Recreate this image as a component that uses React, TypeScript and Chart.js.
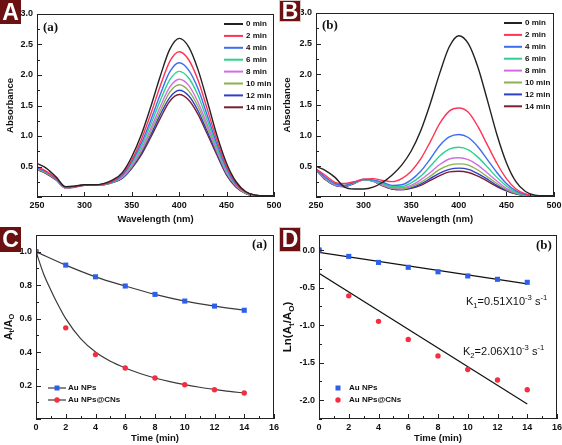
import React, { useEffect, useRef } from 'react';
import Chart from 'chart.js/auto';

const SANS = "'Liberation Sans', Arial, Helvetica, sans-serif";
const SERIF = "'Liberation Serif', 'Times New Roman', serif";

// ---------- data ----------
const wavelengths = [250, 260, 270, 280, 290, 300, 310, 320, 330, 340, 350, 360, 370, 380, 390, 400, 410, 420, 430, 440, 450, 460, 470, 480, 490, 500];
const timeLabels = ['0 min', '2 min', '4 min', '6 min', '8 min', '10 min', '12 min', '14 min'];
const spectraColors = ['#222222', '#ff3355', '#3d6ef0', '#30d090', '#d070e0', '#8fb050', '#2c40c8', '#7a2030'];

// Panel A: Au NPs
const a0 = [0.55, 0.47, 0.33, 0.17, 0.18, 0.20, 0.20, 0.22, 0.28, 0.40, 0.66, 1.02, 1.48, 1.98, 2.42, 2.60, 2.46, 2.08, 1.55, 1.00, 0.55, 0.25, 0.09, 0.03, 0.02, 0.02];
const a2 = [0.50, 0.42, 0.31, 0.16, 0.17, 0.19, 0.19, 0.21, 0.26, 0.38, 0.61, 0.94, 1.36, 1.82, 2.22, 2.38, 2.25, 1.91, 1.42, 0.92, 0.50, 0.23, 0.08, 0.03, 0.02, 0.02];
const a4 = [0.48, 0.41, 0.30, 0.16, 0.17, 0.19, 0.19, 0.21, 0.25, 0.36, 0.58, 0.88, 1.26, 1.68, 2.05, 2.20, 2.08, 1.77, 1.32, 0.86, 0.47, 0.21, 0.08, 0.03, 0.02, 0.02];
const a6 = [0.47, 0.40, 0.30, 0.16, 0.17, 0.20, 0.19, 0.21, 0.25, 0.35, 0.55, 0.83, 1.19, 1.58, 1.92, 2.06, 1.95, 1.66, 1.24, 0.81, 0.44, 0.20, 0.07, 0.03, 0.02, 0.02];
const a8 = [0.47, 0.40, 0.29, 0.15, 0.17, 0.20, 0.19, 0.21, 0.25, 0.33, 0.52, 0.78, 1.12, 1.48, 1.80, 1.93, 1.83, 1.55, 1.17, 0.77, 0.41, 0.19, 0.07, 0.03, 0.02, 0.02];
const a10 = [0.46, 0.39, 0.29, 0.15, 0.17, 0.20, 0.19, 0.20, 0.24, 0.32, 0.50, 0.75, 1.07, 1.41, 1.72, 1.84, 1.74, 1.48, 1.12, 0.74, 0.39, 0.18, 0.06, 0.02, 0.02, 0.02];
const a12 = [0.46, 0.39, 0.29, 0.15, 0.17, 0.20, 0.19, 0.20, 0.24, 0.31, 0.48, 0.72, 1.02, 1.35, 1.63, 1.75, 1.66, 1.41, 1.06, 0.71, 0.37, 0.17, 0.06, 0.02, 0.02, 0.02];
const a14 = [0.45, 0.38, 0.28, 0.15, 0.16, 0.19, 0.19, 0.20, 0.24, 0.31, 0.47, 0.69, 0.98, 1.29, 1.57, 1.68, 1.59, 1.35, 1.02, 0.68, 0.36, 0.16, 0.06, 0.02, 0.02, 0.02];

// Panel B: Au NPs@CNs
const b0 = [0.50, 0.43, 0.32, 0.16, 0.13, 0.13, 0.16, 0.24, 0.36, 0.52, 0.75, 1.08, 1.52, 2.02, 2.45, 2.63, 2.50, 2.12, 1.58, 1.02, 0.56, 0.25, 0.09, 0.03, 0.02, 0.02];
const b2 = [0.46, 0.35, 0.24, 0.22, 0.25, 0.29, 0.30, 0.27, 0.25, 0.30, 0.42, 0.62, 0.90, 1.20, 1.40, 1.45, 1.38, 1.15, 0.85, 0.55, 0.30, 0.13, 0.05, 0.02, 0.01, 0.01];
const b4 = [0.45, 0.32, 0.22, 0.19, 0.24, 0.29, 0.28, 0.24, 0.19, 0.20, 0.28, 0.42, 0.62, 0.84, 0.98, 1.02, 0.97, 0.82, 0.61, 0.40, 0.22, 0.10, 0.04, 0.02, 0.01, 0.01];
const b6 = [0.45, 0.31, 0.21, 0.19, 0.23, 0.28, 0.27, 0.22, 0.17, 0.17, 0.23, 0.34, 0.50, 0.67, 0.78, 0.81, 0.77, 0.65, 0.49, 0.32, 0.18, 0.08, 0.03, 0.01, 0.01, 0.01];
const b8 = [0.44, 0.30, 0.20, 0.18, 0.23, 0.28, 0.26, 0.20, 0.15, 0.15, 0.19, 0.28, 0.40, 0.53, 0.62, 0.64, 0.61, 0.52, 0.39, 0.26, 0.14, 0.07, 0.03, 0.01, 0.01, 0.01];
const b10 = [0.44, 0.29, 0.20, 0.18, 0.23, 0.28, 0.26, 0.19, 0.14, 0.13, 0.17, 0.24, 0.34, 0.45, 0.52, 0.54, 0.52, 0.44, 0.33, 0.22, 0.12, 0.06, 0.02, 0.01, 0.01, 0.01];
const b12 = [0.44, 0.29, 0.19, 0.17, 0.23, 0.28, 0.26, 0.19, 0.13, 0.12, 0.15, 0.21, 0.30, 0.39, 0.45, 0.47, 0.45, 0.38, 0.29, 0.19, 0.11, 0.05, 0.02, 0.01, 0.01, 0.01];
const b14 = [0.44, 0.28, 0.19, 0.17, 0.22, 0.28, 0.26, 0.18, 0.13, 0.12, 0.14, 0.19, 0.27, 0.35, 0.41, 0.42, 0.40, 0.34, 0.26, 0.17, 0.10, 0.05, 0.02, 0.01, 0.01, 0.01];

// Panel C: At/A0 vs time
const times = [0, 2, 4, 6, 8, 10, 12, 14];
const cAu = [1.0, 0.92, 0.85, 0.795, 0.745, 0.705, 0.675, 0.65];
const cAuCN = [1.0, 0.545, 0.385, 0.305, 0.245, 0.205, 0.175, 0.155];
const cFitTimes = [0, 0.5, 1, 1.5, 2, 3, 4, 5, 6, 7, 8, 9, 10, 11, 12, 13, 14];
const cAuCNFit = [1.0, 0.87, 0.77, 0.68, 0.60, 0.48, 0.40, 0.345, 0.305, 0.272, 0.245, 0.223, 0.205, 0.19, 0.177, 0.165, 0.155];

// Panel D: ln(At/A0) vs time
const dAu = [0.0, -0.085, -0.165, -0.23, -0.29, -0.345, -0.39, -0.43];
const dAuCN = [0.0, -0.61, -0.95, -1.19, -1.41, -1.59, -1.73, -1.86];
const dFitTimes = [0, 14];
const dAuFit = [-0.03, -0.45];
const dAuCNFit = [-0.31, -2.05];

const seriesLabels = ['Au NPs', 'Au NPs@CNs'];
const BLUE = 'rgb(45,95,235)';
const RED = 'rgb(245,45,65)';

// ---------- helpers ----------
type Seg = { t: string; k?: 'sub' | 'sup' };
type TextItem = { segs: Seg[]; x: number; y: number; size: number; weight: string; family: string; align: 'left' | 'center' };
type LegendItem = { label: string; color: string; line?: string; marker?: 'rect' | 'circle' };
type DecorCfg = {
  xMinor: number; xMajor: number; yMinor: number; yMajor: number;
  xTitle: Seg[]; xTitleY: number; xTitleSize: number;
  yTitle: Seg[]; yTitleX: number; yTitleSize: number;
  legend: { items: LegendItem[]; x1: number; x2: number; textX: number; y0: number; dy: number; lw: number };
  texts: TextItem[];
};

function fontStr(weight: string, size: number, family: string) {
  return `${weight} ${size}px ${family}`;
}

function drawRich(ctx: CanvasRenderingContext2D, segs: Seg[], x: number, y: number, size: number, weight: string, family: string, align: 'left' | 'center') {
  const small = size * 0.7;
  let total = 0;
  const widths = segs.map((s) => {
    ctx.font = fontStr(weight, s.k ? small : size, family);
    const w = ctx.measureText(s.t).width;
    total += w;
    return w;
  });
  let cx = align === 'center' ? x - total / 2 : x;
  ctx.textAlign = 'left';
  ctx.textBaseline = 'middle';
  segs.forEach((s, i) => {
    ctx.font = fontStr(weight, s.k ? small : size, family);
    const dy = s.k === 'sub' ? size * 0.32 : s.k === 'sup' ? -size * 0.38 : 0;
    ctx.fillText(s.t, cx, y + dy);
    cx += widths[i];
  });
}

function decor(cfg: DecorCfg) {
  return {
    id: 'decor',
    afterDraw(chart: any) {
      const ctx: CanvasRenderingContext2D = chart.ctx;
      const a = chart.chartArea;
      const xs = chart.scales.x;
      const ys = chart.scales.y;
      ctx.save();
      ctx.strokeStyle = '#222';
      ctx.fillStyle = '#111';
      ctx.lineWidth = 1;
      const ticks = (scale: any, minor: number, major: number, horiz: boolean) => {
        const start = Math.ceil(scale.min / minor - 1e-9);
        const end = Math.floor(scale.max / minor + 1e-9);
        for (let i = start; i <= end; i++) {
          const v = i * minor;
          const r = v / major;
          const isMaj = Math.abs(r - Math.round(r)) < 1e-6;
          const len = isMaj ? 5 : 3;
          const p = Math.round(scale.getPixelForValue(v)) + 0.5;
          ctx.beginPath();
          if (horiz) {
            ctx.moveTo(p, a.bottom);
            ctx.lineTo(p, a.bottom - len);
          } else {
            ctx.moveTo(a.left, p);
            ctx.lineTo(a.left + len, p);
          }
          ctx.stroke();
        }
      };
      ticks(xs, cfg.xMinor, cfg.xMajor, true);
      ticks(ys, cfg.yMinor, cfg.yMajor, false);
      ctx.strokeRect(a.left + 0.5, a.top + 0.5, a.right - a.left - 1, a.bottom - a.top - 1);

      // titles
      drawRich(ctx, cfg.xTitle, (a.left + a.right) / 2, cfg.xTitleY, cfg.xTitleSize, 'bold', SANS, 'center');
      ctx.save();
      ctx.translate(cfg.yTitleX, (a.top + a.bottom) / 2);
      ctx.rotate(-Math.PI / 2);
      drawRich(ctx, cfg.yTitle, 0, 0, cfg.yTitleSize, 'bold', SANS, 'center');
      ctx.restore();

      // legend
      const L = cfg.legend;
      L.items.forEach((it, i) => {
        const y = L.y0 + i * L.dy;
        if (it.line) {
          ctx.strokeStyle = it.line;
          ctx.lineWidth = L.lw;
          ctx.beginPath();
          ctx.moveTo(L.x1, y);
          ctx.lineTo(L.x2, y);
          ctx.stroke();
        }
        if (it.marker) {
          const mx = (L.x1 + L.x2) / 2;
          ctx.fillStyle = it.color;
          if (it.marker === 'rect') {
            ctx.fillRect(mx - 2.5, y - 2.5, 5, 5);
          } else {
            ctx.beginPath();
            ctx.arc(mx, y, 2.7, 0, Math.PI * 2);
            ctx.fill();
          }
        }
        ctx.fillStyle = '#111';
        ctx.font = fontStr('bold', 8, SANS);
        ctx.textAlign = 'left';
        ctx.textBaseline = 'middle';
        ctx.fillText(it.label, L.textX, y);
      });

      // free texts
      ctx.fillStyle = '#111';
      cfg.texts.forEach((t) => drawRich(ctx, t.segs, t.x, t.y, t.size, t.weight, t.family, t.align));
      ctx.restore();
    },
  };
}

type AxOpts = {
  xmin: number; xmax: number; xstep: number; ymin: number; ymax: number; ystep: number;
  yw: number; xh: number; hideYZero: boolean;
};

function scales(o: AxOpts) {
  const tickFont = { family: SANS, size: 9, weight: 'bold' as const };
  return {
    x: {
      type: 'linear' as const,
      min: o.xmin,
      max: o.xmax,
      grid: { display: false, drawTicks: false },
      border: { display: false },
      ticks: {
        stepSize: o.xstep,
        padding: 3,
        color: '#111',
        font: tickFont,
        maxRotation: 0,
        autoSkip: false,
        includeBounds: false,
        callback: (v: any) => String(v),
      },
      afterFit: (s: any) => {
        s.height = o.xh;
        s.paddingLeft = 0;
        s.paddingRight = 0;
      },
    },
    y: {
      type: 'linear' as const,
      min: o.ymin,
      max: o.ymax,
      grid: { display: false, drawTicks: false },
      border: { display: false },
      ticks: {
        stepSize: o.ystep,
        padding: 4,
        color: '#111',
        font: tickFont,
        autoSkip: false,
        includeBounds: false,
        callback: (v: any) => (o.hideYZero && Math.abs(Number(v)) < 1e-9 ? '' : Number(v).toFixed(1)),
      },
      afterFit: (s: any) => {
        s.width = o.yw;
        s.paddingTop = 0;
        s.paddingBottom = 0;
      },
    },
  };
}

function spectraDatasets(series: number[][]) {
  return series.map((vals, i) => ({
    label: timeLabels[i],
    data: wavelengths.map((w, j) => ({ x: w, y: vals[j] })),
    borderColor: spectraColors[i],
    backgroundColor: spectraColors[i],
    borderWidth: 1.4,
    pointRadius: 0,
    cubicInterpolationMode: 'monotone' as const,
    fill: false,
  }));
}

const basePlugins = { legend: { display: false }, tooltip: { enabled: false } };

function spectraConfig(series: number[][], tag: string, pad: { top: number; right: number }, yw: number, yTitleX: number, leg: { x1: number; x2: number; textX: number; y0: number }, tagX: number, tagY: number): any {
  return {
    type: 'line',
    data: { datasets: spectraDatasets(series) },
    options: {
      animation: false,
      responsive: false,
      devicePixelRatio: 1,
      layout: { padding: { top: pad.top, right: pad.right, left: 0, bottom: 0 } },
      plugins: basePlugins,
      scales: scales({ xmin: 250, xmax: 500, xstep: 50, ymin: 0, ymax: 3.0, ystep: 0.5, yw, xh: 33, hideYZero: true }),
    },
    plugins: [
      decor({
        xMinor: 25, xMajor: 50, yMinor: 0.25, yMajor: 0.5,
        xTitle: [{ t: 'Wavelength (nm)' }], xTitleY: 219, xTitleSize: 9.5,
        yTitle: [{ t: 'Absorbance' }], yTitleX: yTitleX, yTitleSize: 9.5,
        legend: {
          items: timeLabels.map((l, i) => ({ label: l, color: spectraColors[i], line: spectraColors[i] })),
          x1: leg.x1, x2: leg.x2, textX: leg.textX, y0: leg.y0, dy: 11.9, lw: 2,
        },
        texts: [{ segs: [{ t: tag }], x: tagX, y: tagY, size: 13, weight: 'bold', family: SERIF, align: 'left' }],
      }),
    ],
  };
}

const configA = () => spectraConfig([a0, a2, a4, a6, a8, a10, a12, a14], '(a)', { top: 14, right: 7 }, 37, 10, { x1: 224, x2: 243, textX: 246, y0: 24 }, 43, 28);
const configB = () => spectraConfig([b0, b2, b4, b6, b8, b10, b12, b14], '(b)', { top: 13, right: 8 }, 35, 6, { x1: 223, x2: 241, textX: 244, y0: 23 }, 41, 26);

const configC = (): any => ({
  type: 'line',
  data: {
    datasets: [
      {
        label: seriesLabels[1],
        data: times.map((t, i) => ({ x: t, y: cAuCN[i] })),
        showLine: false,
        pointStyle: 'circle',
        pointRadius: 2.7,
        pointBackgroundColor: RED,
        pointBorderColor: RED,
        pointBorderWidth: 0,
      },
      {
        label: seriesLabels[0],
        data: times.map((t, i) => ({ x: t, y: cAu[i] })),
        borderColor: '#3a3a3a',
        borderWidth: 1.2,
        pointStyle: 'rect',
        pointRadius: 3.6,
        pointBackgroundColor: BLUE,
        pointBorderColor: BLUE,
        pointBorderWidth: 0,
        cubicInterpolationMode: 'monotone',
      },
      {
        label: 'fit',
        data: cFitTimes.map((t, i) => ({ x: t, y: cAuCNFit[i] })),
        borderColor: '#3a3a3a',
        borderWidth: 1.2,
        pointRadius: 0,
        cubicInterpolationMode: 'monotone',
      },
    ],
  },
  options: {
    animation: false,
    responsive: false,
    devicePixelRatio: 1,
    layout: { padding: { top: 13, right: 7, left: 0, bottom: 0 } },
    plugins: basePlugins,
    scales: scales({ xmin: 0, xmax: 16, xstep: 2, ymin: 0, ymax: 1.1, ystep: 0.2, yw: 36, xh: 26, hideYZero: true }),
  },
  plugins: [
    decor({
      xMinor: 1, xMajor: 2, yMinor: 0.1, yMajor: 0.2,
      xTitle: [{ t: 'Time (min)' }], xTitleY: 216.5, xTitleSize: 9.5,
      yTitle: [{ t: 'A' }, { t: 't', k: 'sub' }, { t: '/A' }, { t: 'O', k: 'sub' }], yTitleX: 9, yTitleSize: 10.5,
      legend: {
        items: [
          { label: seriesLabels[0], color: BLUE, line: '#3a3a3a', marker: 'rect' },
          { label: seriesLabels[1], color: RED, line: '#3a3a3a', marker: 'circle' },
        ],
        x1: 48, x2: 66, textX: 68, y0: 166, dy: 12, lw: 1.2,
      },
      texts: [{ segs: [{ t: '(a)' }], x: 252, y: 23, size: 13, weight: 'bold', family: SERIF, align: 'left' }],
    }),
  ],
});

const configD = (): any => ({
  type: 'line',
  data: {
    datasets: [
      {
        label: seriesLabels[0],
        data: times.map((t, i) => ({ x: t, y: dAu[i] })),
        showLine: false,
        pointStyle: 'rect',
        pointRadius: 3.6,
        pointBackgroundColor: BLUE,
        pointBorderColor: BLUE,
        pointBorderWidth: 0,
      },
      {
        label: seriesLabels[1],
        data: times.map((t, i) => ({ x: t, y: dAuCN[i] })),
        showLine: false,
        pointStyle: 'circle',
        pointRadius: 2.7,
        pointBackgroundColor: RED,
        pointBorderColor: RED,
        pointBorderWidth: 0,
      },
      {
        label: 'fit1',
        data: dFitTimes.map((t, i) => ({ x: t, y: dAuFit[i] })),
        borderColor: '#111',
        borderWidth: 1.2,
        pointRadius: 0,
      },
      {
        label: 'fit2',
        data: dFitTimes.map((t, i) => ({ x: t, y: dAuCNFit[i] })),
        borderColor: '#111',
        borderWidth: 1.2,
        pointRadius: 0,
      },
    ],
  },
  options: {
    animation: false,
    responsive: false,
    devicePixelRatio: 1,
    layout: { padding: { top: 13, right: 5, left: 0, bottom: 0 } },
    plugins: basePlugins,
    scales: scales({ xmin: 0, xmax: 16, xstep: 2, ymin: -2.25, ymax: 0.2, ystep: 0.5, yw: 38, xh: 26, hideYZero: false }),
  },
  plugins: [
    decor({
      xMinor: 1, xMajor: 2, yMinor: 0.25, yMajor: 0.5,
      xTitle: [{ t: 'Time (min)' }], xTitleY: 216.5, xTitleSize: 9.5,
      yTitle: [{ t: 'Ln(A' }, { t: 't', k: 'sub' }, { t: '/A' }, { t: 'O', k: 'sub' }, { t: ')' }], yTitleX: 7, yTitleSize: 11.5,
      legend: {
        items: [
          { label: seriesLabels[0], color: BLUE, marker: 'rect' },
          { label: seriesLabels[1], color: RED, marker: 'circle' },
        ],
        x1: 52, x2: 62, textX: 68, y0: 166, dy: 12, lw: 1,
      },
      texts: [
        { segs: [{ t: '(b)' }], x: 255, y: 24, size: 13, weight: 'bold', family: SERIF, align: 'left' },
        { segs: [{ t: 'K' }, { t: '1', k: 'sub' }, { t: '=0.51X10' }, { t: '-3', k: 'sup' }, { t: ' s' }, { t: '-1', k: 'sup' }], x: 185, y: 80, size: 11, weight: 'normal', family: SANS, align: 'left' },
        { segs: [{ t: 'K' }, { t: '2', k: 'sub' }, { t: '=2.06X10' }, { t: '-3', k: 'sup' }, { t: ' s' }, { t: '-1', k: 'sup' }], x: 182, y: 130, size: 11, weight: 'normal', family: SANS, align: 'left' },
      ],
    }),
  ],
});

function Panel({ make, left, top, width, height }: { make: () => any; left: number; top: number; width: number; height: number }) {
  const ref = useRef<HTMLCanvasElement>(null);
  useEffect(() => {
    const chart = new Chart(ref.current as HTMLCanvasElement, make());
    return () => chart.destroy();
  }, []);
  return <canvas ref={ref} width={width} height={height} style={{ position: 'absolute', left, top, width, height, display: 'block' }} />;
}

function Letter({ ch, left, top, w, h, border }: { ch: string; left: number; top: number; w: number; h: number; border?: boolean }) {
  return (
    <div
      style={{
        position: 'absolute', left, top, width: w, height: h, boxSizing: 'border-box',
        background: '#6b1111', color: '#fff', font: `bold 23px ${SANS}`, lineHeight: `${h - (border ? 2 : 0)}px`,
        textAlign: 'center', border: border ? '1px solid #d9c6c6' : 'none',
      }}
    >
      {ch}
    </div>
  );
}

export default function App() {
  return (
    <div style={{ position: 'absolute', left: 0, top: 0, width: 562, height: 445, background: '#fff', overflow: 'hidden' }}>
      <Panel make={configA} left={0} top={0} width={281} height={230} />
      <Panel make={configB} left={281} top={0} width={281} height={230} />
      <Panel make={configC} left={0} top={222} width={281} height={223} />
      <Panel make={configD} left={281} top={222} width={281} height={223} />
      <Letter ch="A" left={0} top={0} w={21} h={24} />
      <Letter ch="B" left={279} top={0} w={22} h={22} border />
      <Letter ch="C" left={0} top={227} w={21} h={25} />
      <Letter ch="D" left={279} top={227} w={22} h={25} border />
    </div>
  );
}
